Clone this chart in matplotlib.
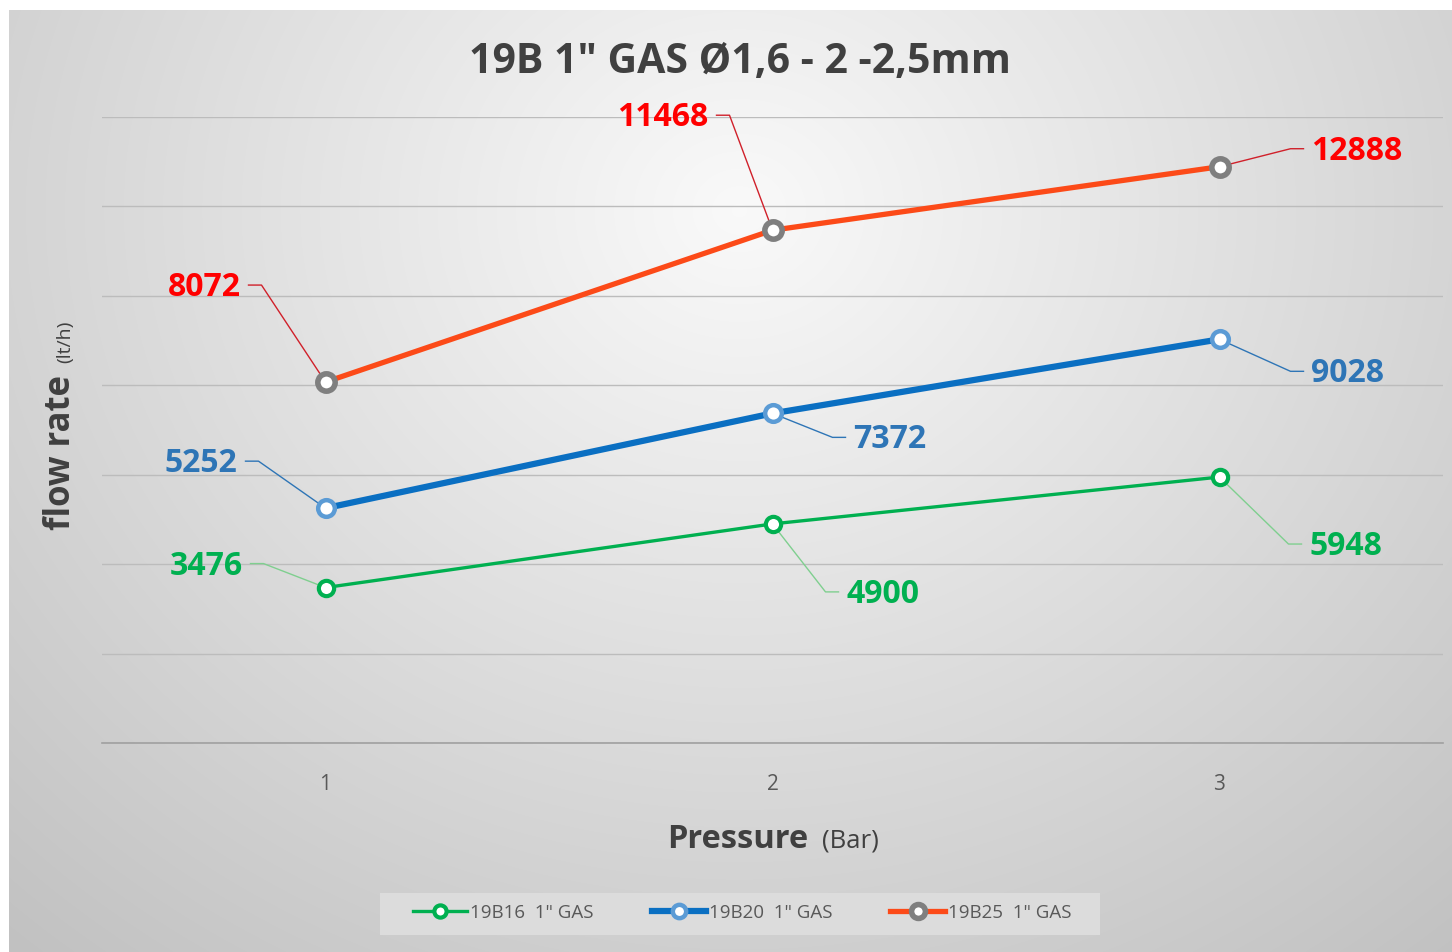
import numpy as np
import matplotlib
matplotlib.use('Agg')
import matplotlib.pyplot as plt
from matplotlib.patches import Rectangle
from matplotlib.transforms import IdentityTransform

plt.rcParams['font.family'] = ['Open Sans', 'DejaVu Sans']

# data
pressure = [1, 2, 3]
flow_19b16 = [3476, 4900, 5948]
flow_19b20 = [5252, 7372, 9028]
flow_19b25 = [8072, 11468, 12888]
series_names = ['19B16  1" GAS', '19B20  1" GAS', '19B25  1" GAS']
y_grid = [0, 2000, 4000, 6000, 8000, 10000, 12000, 14000]
title = '19B 1" GAS Ø1,6 - 2 -2,5mm'

# label placement: (dx, dy) pixel offset of the stub end next to the text, side of text
lab_16 = [(-75, 24, 'left'), (66, -68, 'right'), (82, -67, 'right')]
lab_20 = [(-80, 47, 'left'), (73, -24, 'right'), (84, -32, 'right')]
lab_25 = [(-77, 97, 'left'), (-56, 115, 'left'), (84, 18, 'right')]

W, H = 1452, 952
fig = plt.figure(figsize=(W / 100, H / 100), dpi=100)
fig.patch.set_facecolor('white')

# background panel with radial gradient
bg = fig.add_axes([9 / W, 0, 1 - 9 / W, 1 - 10 / H])
bg.set_axis_off()
yy, xx = np.mgrid[0:942, 0:1443]
cx, cy = 730, 200
r = np.sqrt(((xx - cx) / 900.0) ** 2 + ((yy - cy) / 800.0) ** 2)
val = np.clip(0.978 - 0.18 * r, 0.76, 1.0)
bg.imshow(np.dstack([val, val, val]), aspect='auto', interpolation='bilinear')

# legend box
fig.patches.append(Rectangle((380 / W, 1 - 935 / H), 720 / W, 42 / H,
                             transform=fig.transFigure, facecolor='#dcdcdc',
                             edgecolor='none', zorder=1))

ax = fig.add_axes([102 / W, 1 - 743 / H, (1443 - 102) / W, (743 - 117) / H])
ax.set_facecolor('none')
ax.set_xlim(0.5, 3.5)
ax.set_ylim(0, 14000)
ax.set_yticks(y_grid)
ax.set_yticklabels([])
ax.tick_params(axis='y', length=0)
ax.set_xticks(pressure)
ax.tick_params(axis='x', length=0, labelsize=15, labelcolor='#595959', pad=22)
ax.grid(axis='y', color='#bcbcbc', lw=1)
for s in ['top', 'right', 'left']:
    ax.spines[s].set_visible(False)
ax.spines['bottom'].set_color('#a0a0a0')
ax.spines['bottom'].set_linewidth(1.2)

l1, = ax.plot(pressure, flow_19b16, color='#00b050', lw=2.4, marker='o', ms=11,
              mfc='white', mec='#00b050', mew=3, zorder=3)
l2, = ax.plot(pressure, flow_19b20, color='#0a6fc2', lw=4.5, marker='o', ms=12,
              mfc='white', mec='#5b9bd5', mew=3.2, zorder=3)
l3, = ax.plot(pressure, flow_19b25, color='#fc4a18', lw=3.8, marker='o', ms=12.5,
              mfc='white', mec='#7f7f7f', mew=4, zorder=4)

fig.canvas.draw()

def add_labels(yvals, offs, tcolor, lcolor):
    for x, y, (dx, dy, side) in zip(pressure, yvals, offs):
        px, py = ax.transData.transform((x, y))
        sx, sy = px + dx, py + dy
        stub = 13 if side == 'left' else -13
        ax.plot([sx, sx + stub, px], [sy, sy, py], color=lcolor, lw=1,
                transform=IdentityTransform(), clip_on=False, zorder=2)
        if side == 'left':
            tx, ha = sx - 8, 'right'
        else:
            tx, ha = sx + 8, 'left'
        fig.text(tx / W, (sy - 11) / H, str(y), ha=ha, va='baseline',
                 fontsize=23, fontweight='bold', color=tcolor)

add_labels(flow_19b16, lab_16, '#00b050', '#7fcf8f')
add_labels(flow_19b20, lab_20, '#2e75b6', '#2e75b6')
add_labels(flow_19b25, lab_25, '#ff0000', '#d0202a')

fig.text(740 / W, 1 - 62 / H, title, ha='center', va='center', fontsize=29.5,
         fontweight='bold', color='#404040')

# axis titles
fig.text(808 / W, 1 - 848 / H, 'Pressure', ha='right', va='baseline', fontsize=23.5,
         fontweight='bold', color='#404040')
fig.text(822 / W, 1 - 848 / H, '(Bar)', ha='left', va='baseline', fontsize=18.5,
         color='#404040')
fig.text(79 / W, 1 - 530 / H, 'flow rate', ha='right', va='bottom', rotation=90,
         fontsize=25, fontweight='bold', color='#404040')
fig.text(74 / W, 1 - 363 / H, '(lt/h)', ha='right', va='bottom', rotation=90,
         fontsize=14, color='#404040')

leg = fig.legend([l1, l2, l3], series_names, loc='center', ncol=3,
                 bbox_to_anchor=(742 / W, 1 - 913 / H), frameon=False,
                 fontsize=13.5, handlelength=2.9, columnspacing=3.1,
                 handletextpad=0.15, markerscale=0.8)
for t in leg.get_texts():
    t.set_color('#595959')

fig.savefig('out.png', dpi=100)
